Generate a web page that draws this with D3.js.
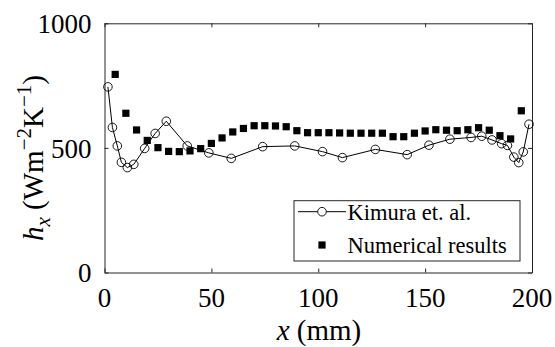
<!DOCTYPE html>
<html>
<head>
<meta charset="utf-8">
<script src="https://d3js.org/d3.v7.min.js"></script>
</head>
<body style="margin:0">
<script>
// Kimura et. al. (experiment)
const kimuraX = [1.6, 3.7, 6.0, 7.9, 10.7, 13.7, 18.8, 23.7, 28.9, 38.7, 48.8, 59.3, 74.0, 89.0, 102.0, 111.3, 126.7, 141.6, 151.8, 161.6, 171.5, 176.5, 181.3, 185.8, 188.5, 191.5, 193.8, 195.9, 198.6];
const kimuraY = [745, 582, 508, 442, 421, 434, 498, 558, 607, 508, 480, 458, 505, 508, 485, 461, 494, 473, 511, 535, 542, 547, 532, 517, 510, 463, 441, 484, 595];

// Numerical results
const numX = [5, 10, 15, 20, 25, 30, 35, 40, 45, 50, 55, 60, 65, 70, 75, 80, 85, 90, 95, 100,
  105, 110, 115, 120, 125, 130, 135, 140, 145, 150, 155, 160, 165, 170, 175, 180, 185, 190, 195];
const numY = [795, 639, 572, 530, 501, 486, 485, 488, 497, 518, 540, 564, 578, 589, 589, 588, 585, 569, 561, 561,
  561, 560, 559, 559, 559, 559, 545, 545, 559, 568, 573, 571, 569, 573, 581, 571, 549, 536, 649];

const xTicks = [0, 50, 100, 150, 200];
const yTicks = [0, 500, 1000];
const legendLabels = ["Kimura et. al.", "Numerical results"];

const width = 555, height = 347;
const margin = { left: 104.5, right: 555 - 532, top: 23.3, bottom: 347 - 272.5 };
const axisColor = "#262626";
const font = size => `${size}px "Liberation Serif", Tinos, "Times New Roman"`;

const svg = d3.select("body").append("svg")
  .attr("width", width)
  .attr("height", height);

const x = d3.scaleLinear().domain([0, 200]).range([margin.left, width - margin.right]);
const y = d3.scaleLinear().domain([0, 1000]).range([height - margin.bottom, margin.top]);

// box + inward ticks on all sides
const tickLen = 4;
svg.append("g")
  .attr("transform", `translate(0,${y(0)})`)
  .call(d3.axisBottom(x).tickValues(xTicks).tickSizeInner(-tickLen).tickSizeOuter(0).tickFormat(""));
svg.append("g")
  .attr("transform", `translate(0,${y(1000)})`)
  .call(d3.axisTop(x).tickValues(xTicks).tickSizeInner(-tickLen).tickSizeOuter(0).tickFormat(""));
svg.append("g")
  .attr("transform", `translate(${x(0)},0)`)
  .call(d3.axisLeft(y).tickValues(yTicks).tickSizeInner(-tickLen).tickSizeOuter(0).tickFormat(""));
svg.append("g")
  .attr("transform", `translate(${x(200)},0)`)
  .call(d3.axisRight(y).tickValues(yTicks).tickSizeInner(-tickLen).tickSizeOuter(0).tickFormat(""));
svg.selectAll("g").attr("font-family", null).attr("font-size", null);
svg.selectAll(".domain, .tick line").attr("stroke", axisColor).attr("stroke-width", 1);

// tick labels
svg.selectAll("text.xt")
  .data(xTicks)
  .join("text")
  .attr("class", "xt")
  .attr("x", d => x(d))
  .attr("y", 306.5)
  .attr("text-anchor", "middle")
  .style("font", font(27))
  .text(d => d);

svg.selectAll("text.yt")
  .data(yTicks)
  .join("text")
  .attr("class", "yt")
  .attr("x", 91.5)
  .attr("y", d => y(d) + 9.8)
  .attr("text-anchor", "end")
  .style("font", font(27))
  .text(d => d);

// axis labels
const xl = svg.append("text")
  .attr("x", 319)
  .attr("y", 340)
  .attr("text-anchor", "middle")
  .style("font", font(29));
xl.append("tspan").style("font-style", "italic").text("x");
xl.append("tspan").text(" (mm)");

const yl = svg.append("text")
  .attr("transform", "translate(43,158) rotate(-90)")
  .attr("text-anchor", "middle")
  .style("font", font(29));
yl.append("tspan").style("font-style", "italic").text("h");
yl.append("tspan").style("font-style", "italic").style("font-size", "21px").attr("dy", 7).text("x");
yl.append("tspan").attr("dy", -7).text(" (Wm");
yl.append("tspan").style("font-size", "21px").attr("dy", -12).text("\u22122");
yl.append("tspan").attr("dy", 12).text("K");
yl.append("tspan").style("font-size", "21px").attr("dy", -12).text("\u22121");
yl.append("tspan").attr("dy", 12).text(")");

// Kimura line + open circles
const kimura = kimuraX.map((d, i) => [d, kimuraY[i]]);
svg.append("path")
  .datum(kimura)
  .attr("fill", "none")
  .attr("stroke", "#000")
  .attr("stroke-width", 1)
  .attr("d", d3.line().x(d => x(d[0])).y(d => y(d[1])));
svg.append("g").selectAll("circle")
  .data(kimura)
  .join("circle")
  .attr("cx", d => x(d[0]))
  .attr("cy", d => y(d[1]))
  .attr("r", 4.3)
  .attr("fill", "none")
  .attr("stroke", "#000")
  .attr("stroke-width", 0.9);

// numerical squares
const sq = 7.2;
svg.append("g").selectAll("rect")
  .data(numX.map((d, i) => [d, numY[i]]))
  .join("rect")
  .attr("x", d => x(d[0]) - sq / 2)
  .attr("y", d => y(d[1]) - sq / 2)
  .attr("width", sq)
  .attr("height", sq)
  .attr("fill", "#000");

// legend
const lg = svg.append("g");
lg.append("rect")
  .attr("x", 294).attr("y", 200.7)
  .attr("width", 226).attr("height", 60.3)
  .attr("fill", "#fff")
  .attr("stroke", axisColor)
  .attr("stroke-width", 1);
lg.append("line")
  .attr("x1", 298).attr("x2", 346)
  .attr("y1", 211.7).attr("y2", 211.7)
  .attr("stroke", "#000");
lg.append("circle")
  .attr("cx", 322).attr("cy", 211.7).attr("r", 4.3)
  .attr("fill", "#fff").attr("stroke", "#000").attr("stroke-width", 0.9);
lg.append("rect")
  .attr("x", 322 - sq / 2).attr("y", 245 - sq / 2)
  .attr("width", sq).attr("height", sq)
  .attr("fill", "#000");
lg.selectAll("text")
  .data(legendLabels)
  .join("text")
  .attr("x", 347.5)
  .attr("y", (d, i) => 219.5 + i * 33)
  .style("font", font(22.5))
  .text(d => d);
</script>
</body>
</html>
